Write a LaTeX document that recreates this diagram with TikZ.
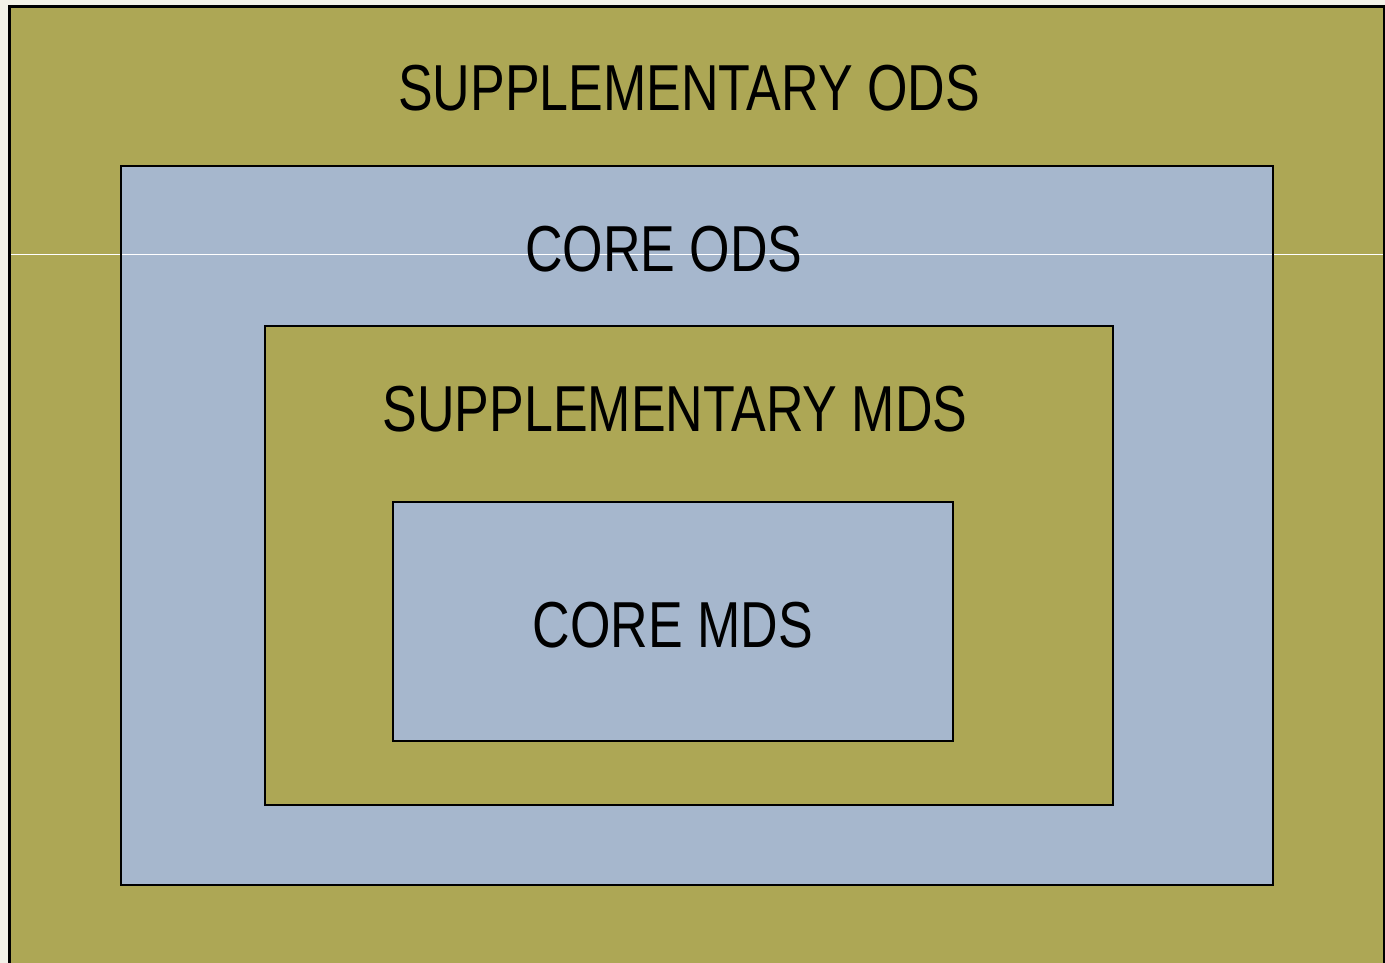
\documentclass[tikz,border=0pt]{standalone}
\usepackage{fontspec}
\newfontfamily\labelfont[FakeStretch=0.80]{Liberation Sans}
\definecolor{olivefill}{HTML}{ADA755}
\definecolor{bluefill}{HTML}{A6B7CD}
\definecolor{paper}{HTML}{F3F2E8}
\tikzset{
  layer/.style={line width=2.4pt, draw=black},
  layertext/.style={anchor=base, inner sep=0pt, font=\labelfont\fontsize{65}{70}\selectfont, text=black}
}
\begin{document}
\begin{tikzpicture}[x=1pt,y=-1pt]
\useasboundingbox (0,0) rectangle (1385,963);
\clip (0,0) rectangle (1385,963);
\fill[paper] (0,0) rectangle (1385,963);
% nested layers, outermost first
\coordinate (so1) at (9.5,6.5);   \coordinate (so2) at (1384,990);
\coordinate (co1) at (121,166);   \coordinate (co2) at (1273,885);
\coordinate (sm1) at (265,326);   \coordinate (sm2) at (1113,805);
\coordinate (cm1) at (393,502);   \coordinate (cm2) at (953,741);
\fill[olivefill] (so1) rectangle (so2);
\fill[bluefill] (co1) rectangle (co2);
\fill[olivefill] (sm1) rectangle (sm2);
\fill[bluefill] (cm1) rectangle (cm2);
% thin light rule across the sheet
\coordinate (r1) at (10,254.5); \coordinate (r2) at (1385,254.5);
\draw[white, line width=1pt] (r1) -- (r2);
\draw[layer] (so1) rectangle (so2);
\draw[layer] (co1) rectangle (co2);
\draw[layer] (sm1) rectangle (sm2);
\draw[layer] (cm1) rectangle (cm2);
\node[layertext] (tso) at (689,111) {SUPPLEMENTARY ODS};
\node[layertext] (tco) at (664,271) {CORE ODS};
\node[layertext] (tsm) at (675,431) {SUPPLEMENTARY MDS};
\node[layertext] (tcm) at (673,647) {CORE MDS};
\end{tikzpicture}
\end{document}
